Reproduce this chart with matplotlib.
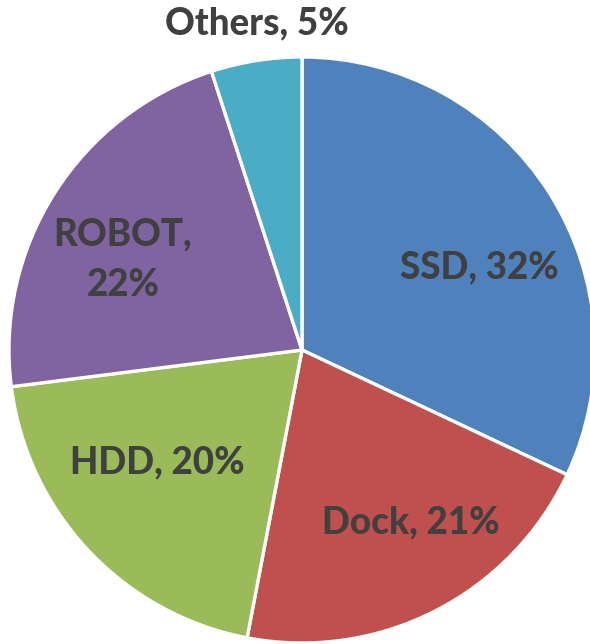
import matplotlib
matplotlib.use("Agg")
import matplotlib.pyplot as plt

# データ
categories = ["SSD", "Dock", "HDD", "ROBOT", "Others"]
shares = [32, 21, 20, 22, 5]
label_texts = ["SSD, 32%", "Dock, 21%", "HDD, 20%", "ROBOT,\n22%", "Others, 5%"]
colors = ["#4F81BD", "#C0504D", "#9BBB59", "#8064A2", "#4BACC6"]

# ラベル位置（半径単位）
label_pos = [(0.604, 0.283), (0.372, -0.587), (-0.495, -0.382),
             (-0.611, 0.307), (-0.154, 1.115)]

plt.rcParams["font.family"] = ["Lato", "DejaVu Sans"]

fig = plt.figure(figsize=(5.9, 6.44), dpi=100)
ax = fig.add_axes([9 / 590, 1 / 644, 586 / 590, 586 / 644])

ax.pie(shares, colors=colors, startangle=90, counterclock=False,
       radius=1, wedgeprops=dict(edgecolor="white", linewidth=2.4))

for (x, y), txt in zip(label_pos, label_texts):
    ax.text(x, y, txt, ha="center", va="center", fontsize=26.5,
            fontweight="black", color="#404040", linespacing=1.6,
            clip_on=False)

ax.set_xlim(-1, 1)
ax.set_ylim(-1, 1)
ax.set_aspect("auto")
ax.axis("off")

fig.savefig("out.png", dpi=100)
